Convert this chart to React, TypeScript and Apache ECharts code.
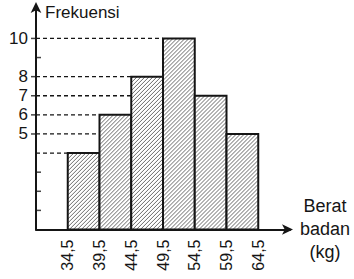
import React, { useEffect, useRef } from "react";
import * as echarts from "echarts";

const binEdges = [34.5, 39.5, 44.5, 49.5, 54.5, 59.5, 64.5];
const frequencies = [4, 6, 8, 10, 7, 5];
const yLabelValues = [5, 6, 7, 8, 10];
const dashedLevels = [4, 5, 6, 7, 8, 10];
const minorTickValues = [1, 2, 3, 9];
const xMin = 29.5;
const xMax = 69.5;
const yMax = 11.75;

const INK = "#151515";
const FONT = "'Liberation Sans', Arial, sans-serif";

export default function App() {
  const ref = useRef<HTMLDivElement>(null);
  useEffect(() => {
    if (!ref.current) return;
    const chart = echarts.init(ref.current, null, { renderer: "svg" });

    const barData = frequencies.map((f, i) => [binEdges[i], binEdges[i + 1], f]);

    const dashSeries = dashedLevels.map((v) => {
      const idx = frequencies.findIndex((f) => f >= v);
      return {
        type: "line",
        silent: true,
        symbol: "none",
        z: 1,
        lineStyle: { color: INK, width: 1.3, type: [4, 3] },
        data: [
          [xMin, v],
          [binEdges[idx], v],
        ],
      };
    });

    const renderItem = (params: any, api: any) => {
      const lo = api.value(0);
      const hi = api.value(1);
      const v = api.value(2);
      const p0 = api.coord([lo, v]);
      const p1 = api.coord([hi, 0]);
      const x0 = p0[0];
      const y0 = p0[1];
      const x1 = p1[0];
      const y1 = p1[1];
      const children: any[] = [
        { type: "rect", shape: { x: x0, y: y0, width: x1 - x0, height: y1 - y0 }, style: { fill: "#fff" } },
      ];
      const step = 4;
      for (let k = x0 + y0 + step / 2; k < x1 + y1; k += step) {
        const xa = Math.max(x0, k - y1);
        const xb = Math.min(x1, k - y0);
        if (xb <= xa) continue;
        children.push({
          type: "line",
          shape: { x1: xa, y1: k - xa, x2: xb, y2: k - xb },
          style: { stroke: "#444", lineWidth: 0.8 },
        });
      }
      children.push({
        type: "rect",
        shape: { x: x0, y: y0, width: x1 - x0, height: y1 - y0 },
        style: { fill: "none", stroke: INK, lineWidth: 2 },
      });
      return { type: "group", children };
    };

    chart.setOption({
      animation: false,
      grid: { left: 36, right: 64, top: 5, bottom: 49.5, containLabel: false },
      xAxis: {
        type: "value",
        min: xMin,
        max: xMax,
        interval: 5,
        splitLine: { show: false },
        axisTick: { show: false },
        axisLine: {
          show: true,
          lineStyle: { color: INK, width: 2 },
          symbol: ["none", "arrow"],
          symbolSize: [8, 11],
          symbolOffset: [0, 3],
        },
        axisLabel: {
          rotate: 90,
          margin: 10,
          color: INK,
          fontSize: 16,
          fontFamily: FONT,
          formatter: (val: number) =>
            binEdges.some((e) => Math.abs(e - val) < 1e-6) ? String(val).replace(".", ",") : "",
        },
      },
      yAxis: {
        type: "value",
        min: 0,
        max: yMax,
        interval: 1,
        splitLine: { show: false },
        axisTick: { show: false },
        axisLine: {
          show: true,
          lineStyle: { color: INK, width: 2 },
          symbol: ["none", "arrow"],
          symbolSize: [8, 11],
          symbolOffset: [0, 3],
        },
        axisLabel: {
          margin: 8,
          color: INK,
          fontSize: 17,
          fontFamily: FONT,
          showMaxLabel: false,
          formatter: (val: number) => (yLabelValues.includes(val) ? String(val) : ""),
        },
      },
      series: [
        ...dashSeries,
        {
          type: "scatter",
          silent: true,
          clip: false,
          symbol: "rect",
          symbolSize: [4, 1.5],
          symbolOffset: [-3, 0],
          itemStyle: { color: INK },
          data: yLabelValues.map((v) => [xMin, v]),
          z: 3,
        },
        {
          type: "scatter",
          silent: true,
          clip: false,
          symbol: "rect",
          symbolSize: [4, 1.5],
          symbolOffset: [3, 0],
          itemStyle: { color: INK },
          data: minorTickValues.map((v) => [xMin, v]),
          z: 3,
        },
        {
          type: "custom",
          renderItem,
          encode: { x: [0, 1], y: 2 },
          data: barData,
          z: 2,
        },
      ],
      graphic: [
        {
          type: "text",
          left: 45,
          top: 4,
          style: { text: "Frekuensi", fill: INK, fontSize: 17, fontFamily: FONT },
        },
        {
          type: "text",
          x: 325,
          y: 194,
          style: {
            text: "Berat\nbadan\n(kg)",
            fill: INK,
            fontSize: 18,
            fontFamily: FONT,
            align: "center",
            lineHeight: 23,
          },
        },
      ],
    });
    return () => chart.dispose();
  }, []);
  return (
    <div
      ref={ref}
      style={{ position: "fixed", left: 0, top: 0, width: 354, height: 279, background: "#fff" }}
    />
  );
}
